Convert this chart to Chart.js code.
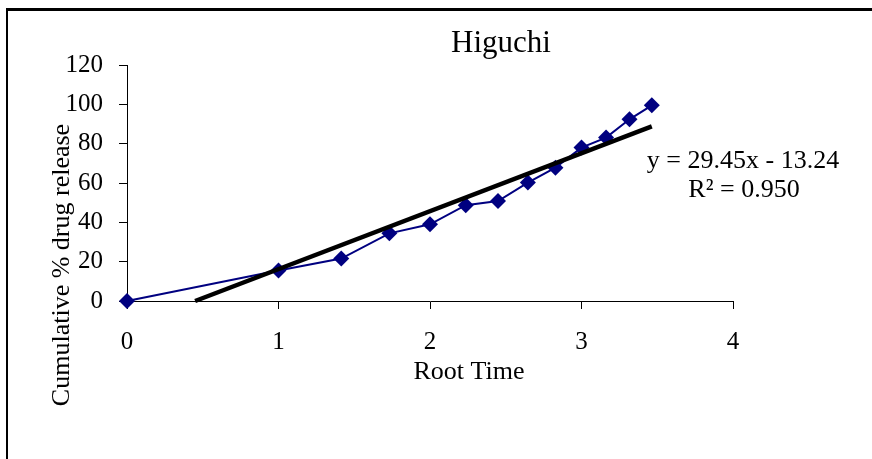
<!DOCTYPE html>
<html lang="en">
  <head>
    <meta charset="utf-8" />
    <meta name="viewport" content="width=device-width,initial-scale=1" />
    <script src="https://cdn.jsdelivr.net/npm/chart.js@4.4.0/dist/chart.umd.min.js"></script>
    <style>
      body {
        margin: 0;
        background: #fff;
      }
      #wrap {
        position: relative;
        width: 872px;
        height: 459px;
        overflow: hidden;
      }
      #frame {
        position: absolute;
        left: 6px;
        top: 8px;
        width: 900px;
        height: 500px;
        border-top: 3px solid #000;
        border-left: 2px solid #000;
      }
    </style>
    <title>Higuchi</title>
  </head>
  <body>
    <div id="wrap">
      <div id="frame"></div>
      <canvas id="myChart"></canvas>
    </div>
    <script>
      // square root of time (x) and cumulative % drug release (y)
      const rootTime = [0, 1, 1.414, 1.732, 2, 2.236, 2.449, 2.646, 2.828, 3, 3.162, 3.317, 3.464];
      const releasePct = [0, 15.5, 21.6, 34.4, 39.0, 48.7, 50.8, 60.2, 67.8, 78.0, 83.1, 92.4, 99.5];

      // linear fit as printed on the chart
      const trendSlope = 29.45;
      const trendIntercept = -13.24;
      const trendLabel = ["y = 29.45x - 13.24", "R\u00b2 = 0.950"];

      const xRange = [0, 4];
      const yRange = [0, 120];

      const serif = "'Liberation Serif', 'Times New Roman', serif";

      const points = rootTime.map((x, i) => ({ x: x, y: releasePct[i] }));
      const trendStart = -trendIntercept / trendSlope;
      const trendEnd = rootTime[rootTime.length - 1];
      const trendPoints = [
        { x: trendStart, y: trendSlope * trendStart + trendIntercept },
        { x: trendEnd, y: trendSlope * trendEnd + trendIntercept },
      ];

      // title, axis titles and the fit equation
      const textPlugin = {
        id: "texts",
        afterDraw(chart) {
          const c = chart.ctx;
          c.save();
          c.fillStyle = "#000";
          c.textAlign = "center";
          c.textBaseline = "alphabetic";

          c.font = "31px " + serif;
          c.fillText("Higuchi", 501, 52);

          c.font = "26px " + serif;
          c.fillText("Root Time", 469, 379);

          c.fillText(trendLabel[0], 743, 168);
          c.fillText(trendLabel[1], 744, 197);

          c.translate(69, 265);
          c.rotate(-Math.PI / 2);
          c.fillText("Cumulative % drug release", 0, 0);
          c.restore();
        },
      };

      const ctx = document.getElementById("myChart").getContext("2d");
      const myChart = new Chart(ctx, {
        type: "scatter",
        data: {
          datasets: [
            {
              label: "trend",
              data: trendPoints,
              showLine: true,
              borderColor: "#000",
              borderWidth: 4.5,
              pointRadius: 0,
              clip: false,
              order: 0,
            },
            {
              label: "release",
              data: points,
              showLine: true,
              borderColor: "#000080",
              borderWidth: 2,
              backgroundColor: "#000080",
              pointStyle: "rectRot",
              pointRadius: 8,
              pointBorderWidth: 0,
              clip: false,
              order: 1,
            },
          ],
        },
        options: {
          responsive: true,
          maintainAspectRatio: false,
          animation: false,
          layout: {
            padding: { left: 0, right: 139, top: 65, bottom: 0 },
          },
          plugins: {
            legend: { display: false },
            tooltip: { enabled: false },
            title: { display: false },
          },
          scales: {
            x: {
              type: "linear",
              min: xRange[0],
              max: xRange[1],
              afterFit(scale) {
                scale.height = 158;
              },
              ticks: {
                stepSize: 1,
                color: "#000",
                padding: 18,
                font: { family: serif, size: 25 },
              },
              grid: {
                drawOnChartArea: false,
                drawTicks: true,
                tickLength: 8,
                color: "#000",
              },
              border: { color: "#000", width: 1 },
            },
            y: {
              type: "linear",
              min: yRange[0],
              max: yRange[1],
              afterFit(scale) {
                scale.width = 127;
              },
              ticks: {
                stepSize: 20,
                color: "#000",
                padding: 16,
                font: { family: serif, size: 25 },
              },
              grid: {
                drawOnChartArea: false,
                drawTicks: true,
                tickLength: 8,
                color: "#000",
              },
              border: { color: "#000", width: 1 },
            },
          },
        },
        plugins: [textPlugin],
      });
    </script>
  </body>
</html>
